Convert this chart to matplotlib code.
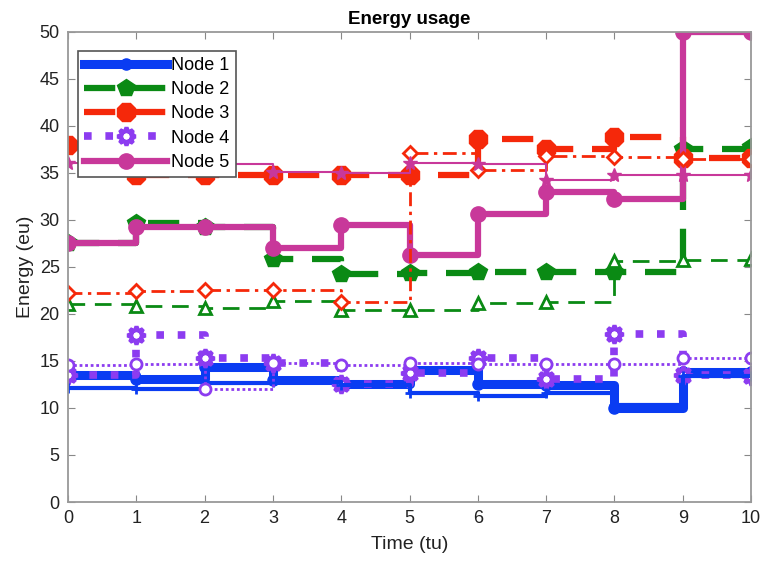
import numpy as np
import matplotlib.pyplot as plt

plt.rcParams['font.family'] = ['Liberation Sans', 'DejaVu Sans']

# time steps
time = [0, 1, 2, 3, 4, 5, 6, 7, 8, 9, 10]

# thick lines (legend entries)
node1 = [13.5, 13.1, 14.4, 13.0, 12.5, 14.0, 12.6, 12.4, 10.0, 13.8, 13.8]
node2 = [27.5, 29.7, 29.3, 25.8, 24.3, 24.4, 24.5, 24.5, 24.5, 37.6, 37.8]
node3 = [38.0, 34.8, 34.8, 34.8, 34.8, 34.8, 38.6, 37.5, 38.8, 36.6, 36.6]
node4 = [13.5, 17.8, 15.3, 14.8, 12.6, 13.7, 15.3, 13.1, 17.9, 13.5, 13.4]
node5 = [27.5, 29.3, 29.3, 27.0, 29.5, 26.3, 30.6, 33.0, 32.2, 50.0, 50.0]

# thin lines
node1_b = [12.1, 12.0, 12.7, 12.8, 12.4, 11.6, 11.3, 11.6, 10.3, 13.4, 13.4]
node2_b = [21.1, 20.9, 20.6, 21.4, 20.4, 20.4, 21.2, 21.3, 25.6, 25.7, 25.9]
node3_b = [22.2, 22.4, 22.5, 22.5, 21.3, 37.1, 35.3, 36.8, 36.7, 36.5, 36.5]
node4_b = [14.6, 14.7, 12.0, 14.8, 14.6, 14.8, 14.7, 14.7, 14.7, 15.3, 15.3]
node5_b = [36.1, 36.0, 35.9, 35.1, 35.0, 36.1, 36.0, 34.3, 34.8, 34.8, 34.8]

labels = ['Node 1', 'Node 2', 'Node 3', 'Node 4', 'Node 5']

blue = '#0a3cf2'
green = '#0a8a14'
red = '#f5280a'
purple = '#8c3cf0'
magenta = '#c8389a'

fig = plt.figure(figsize=(7.65, 5.65), dpi=100)
ax = fig.add_axes([0.0889, 0.1115, 0.8928, 0.832])

# thick
ax.step(time, node1, where='post', color=blue, lw=6.5, marker='o', ms=8, label=labels[0])
ax.step(time, node2, where='post', color=green, lw=4.5, marker='p', ms=13,
        dashes=(5, 3), label=labels[1])
ax.step(time, node3, where='post', color=red, lw=4.5, marker='8', ms=14,
        dashes=(5, 3), label=labels[2])
ax.step(time, node4, where='post', color=purple, lw=5.5, marker=(8, 1, 0), ms=13,
        mfc='white', mew=3, dashes=(1, 1.8), label=labels[3])
ax.step(time, node5, where='post', color=magenta, lw=4.5, marker='o', ms=11, label=labels[4])

# thin
ax.step(time, node1_b, where='post', color=blue, lw=3, marker='+', ms=7, mew=2)
ax.step(time, node2_b, where='post', color=green, lw=2, marker='^', ms=8,
        mfc='white', mew=2, dashes=(6, 3.5))
ax.step(time, node3_b, where='post', color=red, lw=2, marker='D', ms=7,
        mfc='white', mew=2, dashes=(5, 2, 1.2, 2))
ax.step(time, node4_b, where='post', color=purple, lw=2, marker='o', ms=8,
        mfc='white', mew=2, dashes=(1, 1))
ax.step(time, node5_b, where='post', color=magenta, lw=1.5, marker='*', ms=10)

ax.set_xlim(0, 10)
ax.set_ylim(0, 50)
ax.set_xticks(range(0, 11))
ax.set_yticks(range(0, 51, 5))
ax.tick_params(direction='in', top=True, right=True, length=5, color='#888888',
               labelsize=13, labelcolor='#222222', pad=6)
for s in ax.spines.values():
    s.set_color('#999999')
    s.set_linewidth(1.3)

ax.set_xlabel('Time (tu)', fontsize=14, color='#222222', labelpad=6)
ax.set_ylabel('Energy (eu)', fontsize=14, color='#222222', labelpad=4)
ax.set_title('Energy usage', fontsize=13.5, fontweight='bold', pad=6)

leg = ax.legend(loc='upper left', bbox_to_anchor=(0.0146, 0.96), borderaxespad=0,
                fontsize=13, handlelength=4.6, fancybox=False, framealpha=1,
                edgecolor='#555555', labelspacing=0.4, handletextpad=0.2,
                borderpad=0.35)
leg.get_frame().set_linewidth(1.2)

fig.savefig('out.png', dpi=100)
